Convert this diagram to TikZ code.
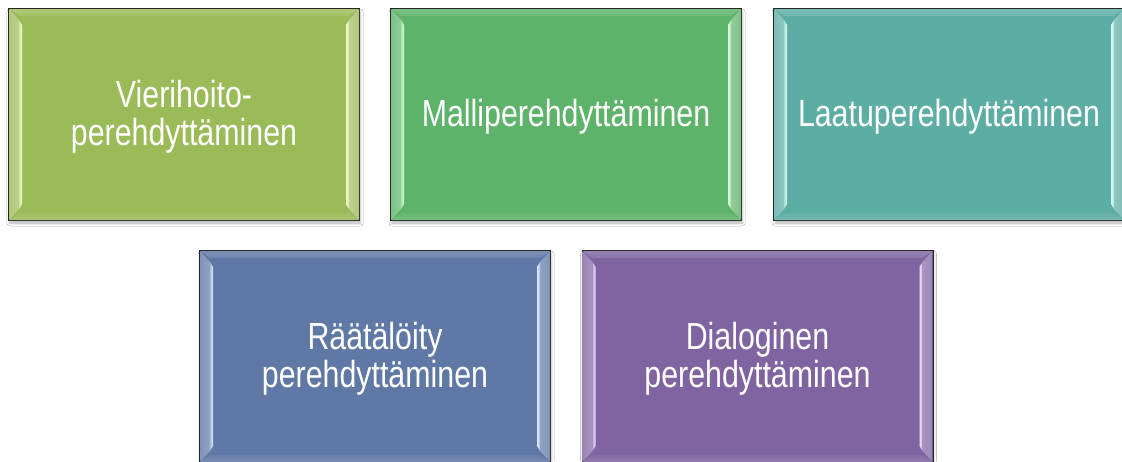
\documentclass[tikz,border=0pt]{standalone}
\usepackage{fontspec}
\newfontfamily\boxfont{Liberation Sans}[FakeStretch=0.805]
\usetikzlibrary{calc,shadows.blur}
\definecolor{cA}{HTML}{9BBB59}
\definecolor{cB}{HTML}{5DB369}
\definecolor{cC}{HTML}{5CADA4}
\definecolor{cD}{HTML}{5F78A6}
\definecolor{cE}{HTML}{8064A2}
\definecolor{hA}{HTML}{F4FFCC}
\definecolor{hB}{HTML}{DCFFE0}
\definecolor{hC}{HTML}{DCFFF8}
\definecolor{hD}{HTML}{E0EAFF}
\definecolor{hE}{HTML}{EEE0FF}
\tikzset{
  card/.style={draw=black!85, line width=2pt, fill=#1, minimum width=350pt,
    minimum height=211pt, inner sep=0pt,
    blur shadow={shadow xshift=1pt, shadow yshift=-3pt, shadow blur radius=3pt, shadow opacity=30}},
  cardtext/.style={text=white, font=\boxfont\fontsize{37.7}{37.7}\selectfont,
    align=center, inner sep=0pt},
}
\newcommand\mybevel[3]{%
  % left
  \shade[left color=#2!80!white, right color=#2!68!white]
    ($(#1.north west)+(1,1)$) -- ($(#1.north west)+(11,12)$) -- ($(#1.south west)+(11,-12)$) -- ($(#1.south west)+(1,-1)$) -- cycle;
  \shade[left color=#3!60!#2, right color=#3]
    ($(#1.north west)+(11,12)$) -- ($(#1.north west)+(14,17)$) -- ($(#1.south west)+(14,-17)$) -- ($(#1.south west)+(11,-12)$) -- cycle;
  % right
  \shade[right color=#2!80!white, left color=#2!68!white]
    ($(#1.north east)+(-1,1)$) -- ($(#1.north east)+(-11,12)$) -- ($(#1.south east)+(-11,-12)$) -- ($(#1.south east)+(-1,-1)$) -- cycle;
  \shade[right color=#3!60!#2, left color=#3]
    ($(#1.north east)+(-11,12)$) -- ($(#1.north east)+(-14,17)$) -- ($(#1.south east)+(-14,-17)$) -- ($(#1.south east)+(-11,-12)$) -- cycle;
  % top
  \shade[top color=#2!82!white, bottom color=#2!90!white]
    ($(#1.north west)+(1,1)$) -- ($(#1.north east)+(-1,1)$) -- ($(#1.north east)+(-11,8)$) -- ($(#1.north west)+(11,8)$) -- cycle;
  % bottom
  \shade[bottom color=#2!85!white, top color=#2!95!white]
    ($(#1.south west)+(1,-1)$) -- ($(#1.south east)+(-1,-1)$) -- ($(#1.south east)+(-11,-8)$) -- ($(#1.south west)+(11,-8)$) -- cycle;
}
\begin{document}
\begin{tikzpicture}[x=1pt, y=-1pt]
  \fill[white] (0,0) rectangle (1122,461);
  \useasboundingbox (0,0) rectangle (1122,461);
  \clip (0,0) rectangle (1122,461);

  \node[card=cA] (b1) at (184,114.5) {};
  \node[card=cB] (b2) at (566,114.5) {};
  \node[card=cC] (b3) at (949,114.5) {};
  \node[card=cD] (b4) at (375,356.5) {};
  \node[card=cE] (b5) at (757.5,356.5) {};

  \mybevel{b1}{cA}{hA}
  \mybevel{b2}{cB}{hB}
  \mybevel{b3}{cC}{hC}
  \mybevel{b4}{cD}{hD}
  \mybevel{b5}{cE}{hE}

  \node[cardtext] (t1) at ($(b1.center)+(0,2)$) {Vierihoito-\\perehdyttäminen};
  \node[cardtext] (t2) at ($(b2.center)+(0,2)$) {Malliperehdyttäminen};
  \node[cardtext] (t3) at ($(b3.center)+(0,2)$) {Laatuperehdyttäminen};
  \node[cardtext] (t4) at ($(b4.center)+(0,2)$) {Räätälöity\\perehdyttäminen};
  \node[cardtext] (t5) at ($(b5.center)+(0,2)$) {Dialoginen\\perehdyttäminen};
\end{tikzpicture}
\end{document}
